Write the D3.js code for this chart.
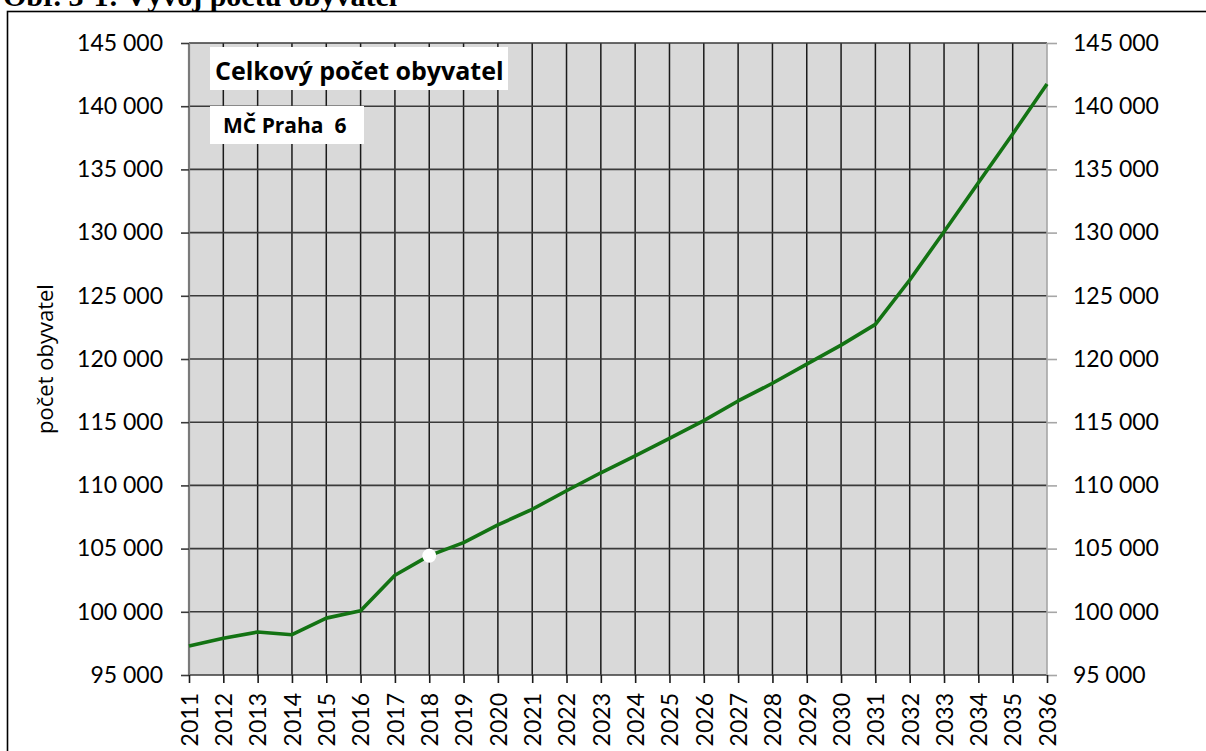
<!DOCTYPE html>
<html>
<head>
<meta charset="utf-8">
<style>
    body { margin: 0; background: white; }
    svg { display: block; }
    .axis text { font-family: Lato, "Open Sans", sans-serif; font-size: 23px; fill: #000; }
    .axis .domain { display: none; }
</style>
</head>
<body>
<svg width="1206" height="751"></svg>
<script src="https://d3js.org/d3.v7.min.js"></script>
<script>
    // data
    let years = [2011, 2012, 2013, 2014, 2015, 2016, 2017, 2018, 2019, 2020,
                 2021, 2022, 2023, 2024, 2025, 2026, 2027, 2028, 2029, 2030,
                 2031, 2032, 2033, 2034, 2035, 2036]
    let population = [97300, 97900, 98400, 98190, 99500, 100090, 102890, 104440, 105470, 106870,
                      108110, 109580, 111000, 112330, 113720, 115120, 116680, 118080, 119600, 121100,
                      122740, 126250, 130070, 133950, 137800, 141750]
    let yTicks = [95000, 100000, 105000, 110000, 115000, 120000, 125000, 130000, 135000, 140000, 145000]
    let markedYear = 2018

    let svg = d3.select("svg")
    let margin = { top: 43, right: 159, bottom: 76, left: 189 }
    let width = 1206, height = 751

    // figure caption (cut off at the top of the page, as in the source)
    svg.append("text")
        .attr("x", 3)
        .attr("y", 6)
        .style("font-family", "'Liberation Serif', 'Times New Roman', serif")
        .style("font-weight", "bold")
        .style("font-size", "30px")
        .style("fill", "#000")
        .text("Obr. 3-1: Vývoj počtu obyvatel")

    // outer frame
    svg.append("rect")
        .attr("x", 7.5)
        .attr("y", 11.5)
        .attr("width", 1220)
        .attr("height", 760)
        .style("fill", "none")
        .style("stroke", "#000")
        .style("stroke-width", 1.6)

    let x = d3.scaleLinear()
        .domain(d3.extent(years))
        .range([margin.left, width - margin.right])

    let y = d3.scaleLinear()
        .domain([yTicks[0], yTicks[yTicks.length - 1]])
        .range([height - margin.bottom, margin.top])

    let fmt = d3.formatLocale({ decimal: ",", thousands: "\u00a0", grouping: [3], currency: ["", " Kč"] }).format(",d")

    // plot background
    svg.append("rect")
        .attr("x", x.range()[0])
        .attr("y", y.range()[1])
        .attr("width", x.range()[1] - x.range()[0])
        .attr("height", y.range()[0] - y.range()[1])
        .style("fill", "#d9d9d9")

    // vertical grid lines
    svg.append("g")
        .selectAll("line")
        .data(years.slice(1, -1))
        .join("line")
        .attr("x1", d => x(d))
        .attr("x2", d => x(d))
        .attr("y1", y.range()[1])
        .attr("y2", y.range()[0])
        .style("stroke", "#1a1a1a")
        .style("stroke-width", 1.5)

    // horizontal grid lines
    svg.append("g")
        .selectAll("line")
        .data(yTicks)
        .join("line")
        .attr("x1", x.range()[0])
        .attr("x2", x.range()[1])
        .attr("y1", d => y(d))
        .attr("y2", d => y(d))
        .style("stroke", "#3a3a3a")
        .style("stroke-width", 1.6)

    // plot edges
    svg.append("line")
        .attr("x1", x.range()[0]).attr("x2", x.range()[0])
        .attr("y1", y.range()[1]).attr("y2", y.range()[0])
        .style("stroke", "#7a7a7a")
        .style("stroke-width", 2.2)
    svg.append("line")
        .attr("x1", x.range()[1]).attr("x2", x.range()[1])
        .attr("y1", y.range()[1]).attr("y2", y.range()[0])
        .style("stroke", "#a6a6a6")
        .style("stroke-width", 1.6)

    // left axis
    svg.append("g")
        .attr("class", "axis")
        .attr("transform", `translate(${margin.left},0)`)
        .call(d3.axisLeft(y).tickValues(yTicks).tickSize(8).tickPadding(18).tickFormat(fmt))
        .call(g => g.selectAll(".tick line").style("stroke", "#3a3a3a").style("stroke-width", 1.6))

    // right axis
    svg.append("g")
        .attr("class", "axis")
        .attr("transform", `translate(${width - margin.right},0)`)
        .call(d3.axisRight(y).tickValues(yTicks).tickSize(10).tickPadding(16).tickFormat(fmt))
        .call(g => g.selectAll(".tick line").style("stroke", "#a6a6a6").style("stroke-width", 1.6))

    // bottom axis with rotated years
    svg.append("g")
        .attr("class", "axis")
        .attr("transform", `translate(0,${height - margin.bottom})`)
        .call(d3.axisBottom(x).tickValues(years).tickSize(8).tickFormat(d3.format("d")))
        .call(g => g.selectAll(".tick line").style("stroke", "#1a1a1a").style("stroke-width", 1.6))
        .call(g => g.selectAll(".tick text")
            .attr("transform", "rotate(-90)")
            .attr("x", -18)
            .attr("y", 0)
            .attr("dy", "0.36em")
            .style("text-anchor", "end"))

    // y axis title
    svg.append("text")
        .attr("transform", `translate(53,${(y.range()[0] + y.range()[1]) / 2}) rotate(-90)`)
        .style("text-anchor", "middle")
        .style("font-family", "'Open Sans', Lato, sans-serif")
        .style("font-size", "22px")
        .style("fill", "#000")
        .text("počet obyvatel")

    // population line
    let line = d3.line()
        .x((d, i) => x(years[i]))
        .y(d => y(d))

    svg.append("path")
        .datum(population)
        .attr("d", line)
        .style("fill", "none")
        .style("stroke", "#137313")
        .style("stroke-width", 3.6)
        .style("stroke-linejoin", "round")

    // white marker at the last known year
    let mi = years.indexOf(markedYear)
    svg.append("circle")
        .attr("cx", x(years[mi]))
        .attr("cy", y(population[mi]))
        .attr("r", 7)
        .style("fill", "white")

    // label boxes
    svg.append("rect")
        .attr("x", 210).attr("y", 47)
        .attr("width", 298).attr("height", 43)
        .style("fill", "white")
    svg.append("text")
        .attr("x", 215).attr("y", 80)
        .style("font-family", "'Open Sans', Lato, sans-serif")
        .style("font-weight", "bold")
        .style("font-size", "25px")
        .style("fill", "#000")
        .text("Celkový počet obyvatel")

    svg.append("rect")
        .attr("x", 210).attr("y", 106)
        .attr("width", 154).attr("height", 38)
        .style("fill", "white")
    svg.append("text")
        .attr("x", 223).attr("y", 133)
        .style("font-family", "'Open Sans', Lato, sans-serif")
        .style("font-weight", "bold")
        .style("font-size", "21px")
        .style("fill", "#000")
        .attr("xml:space", "preserve")
        .text("MČ Praha  6")
</script>
</body>
</html>
